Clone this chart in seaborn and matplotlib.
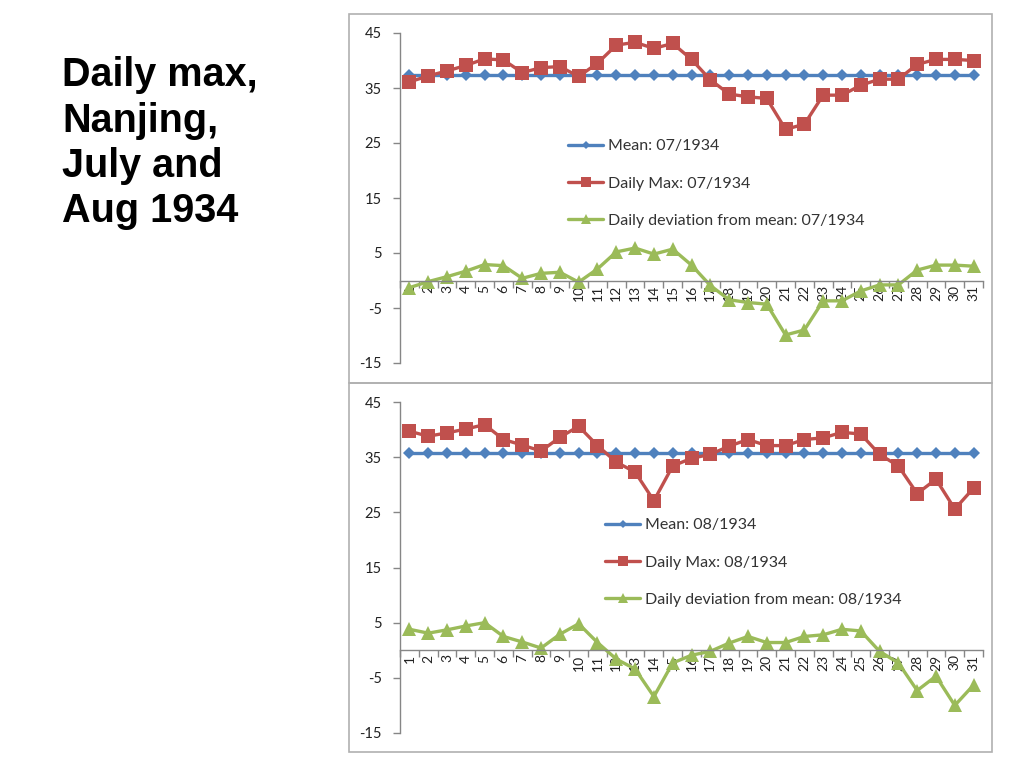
# Daily max temperature, Nanjing, July & August 1934
import numpy as np
import pandas as pd
import matplotlib
matplotlib.use("Agg")
import matplotlib.pyplot as plt
import seaborn as sns
from matplotlib.patches import Rectangle

# ---- data ----
days = list(range(1, 32))

jul_mean = 37.4
jul_max = [36.1, 37.2, 38.1, 39.1, 40.3, 40.1, 37.8, 38.7, 38.9, 37.1,
           39.5, 42.8, 43.3, 42.2, 43.1, 40.2, 36.5, 33.9, 33.4, 33.1,
           27.5, 28.4, 33.7, 33.7, 35.5, 36.6, 36.6, 39.3, 40.2, 40.2, 40.0]
jul_dev = [-1.3, -0.2, 0.7, 1.7, 2.9, 2.7, 0.4, 1.3, 1.5, -0.3,
           2.1, 5.2, 5.9, 4.8, 5.7, 2.8, -0.9, -3.5, -4.0, -4.3,
           -9.9, -9.0, -3.7, -3.7, -1.9, -0.8, -0.8, 1.9, 2.8, 2.8, 2.6]

aug_mean = 35.7
aug_max = [39.7, 38.8, 39.4, 40.1, 40.9, 38.2, 37.2, 36.1, 38.6, 40.6,
           37.1, 34.1, 32.3, 27.1, 33.4, 34.8, 35.5, 37.0, 38.2, 37.1,
           37.1, 38.2, 38.5, 39.5, 39.2, 35.5, 33.4, 28.4, 31.0, 25.6, 29.4]
aug_dev = [3.8, 3.1, 3.7, 4.4, 5.0, 2.5, 1.5, 0.4, 2.9, 4.8,
           1.4, -1.6, -3.4, -8.4, -2.3, -0.9, -0.2, 1.3, 2.5, 1.4,
           1.4, 2.5, 2.8, 3.8, 3.5, -0.2, -2.3, -7.3, -4.7, -10.0, -6.3]

BLUE, RED, GREEN = "#4F81BD", "#C0504D", "#9BBB59"

sns.set_theme(style="white")
plt.rcParams["font.family"] = ["Lato", "DejaVu Sans"]
plt.rcParams["axes.unicode_minus"] = False

fig = plt.figure(figsize=(10.24, 7.68), dpi=100)

# panel frames
fig.add_artist(Rectangle((349/1024, 1 - 383/768), 643/1024, 369/768,
                         transform=fig.transFigure, fill=False,
                         edgecolor="#B0B0B0", lw=1.2))
fig.add_artist(Rectangle((349/1024, 1 - 752/768), 643/1024, 369/768,
                         transform=fig.transFigure, fill=False,
                         edgecolor="#B0B0B0", lw=1.2))

fig.text(62/1024, 1 - 56/768, "Daily max,\nNanjing,\nJuly and\nAug 1934",
         family="Liberation Sans", weight="bold", fontsize=28.5,
         color="black", va="top", ha="left", linespacing=1.25)


def draw_panel(rect, mean, dmax, dev, month, legend_xy):
    ax = fig.add_axes(rect)
    df = pd.DataFrame({"day": days, "mean": [mean] * len(days),
                       "max": dmax, "dev": dev})
    sns.lineplot(data=df, x="day", y="mean", ax=ax, color=BLUE, lw=2.4,
                 marker="D", markersize=6.5, markeredgewidth=0,
                 label=f"Mean: {month}/1934")
    sns.lineplot(data=df, x="day", y="max", ax=ax, color=RED, lw=2.4,
                 marker="s", markersize=10, markeredgewidth=0,
                 label=f"Daily Max: {month}/1934")
    sns.lineplot(data=df, x="day", y="dev", ax=ax, color=GREEN, lw=2.4,
                 marker="^", markersize=10, markeredgewidth=0,
                 label=f"Daily deviation from mean: {month}/1934")

    ax.set_xlim(0.5, 31.5)
    ax.set_ylim(-15, 45)
    ax.set_yticks([-15, -5, 5, 15, 25, 35, 45])
    ax.set_xticks(days)
    ax.set_xticklabels([str(d) for d in days])
    ax.set_xticks(np.arange(0.5, 32, 1), minor=True)
    ax.set_xlabel("")
    ax.set_ylabel("")

    for s in ["top", "right"]:
        ax.spines[s].set_visible(False)
    ax.spines["bottom"].set_position(("data", 0))
    for s in ["left", "bottom"]:
        ax.spines[s].set_color("#868686")
        ax.spines[s].set_linewidth(1.0)

    ax.tick_params(axis="y", which="major", direction="out", length=5,
                   width=1, color="#868686", pad=8, labelsize=10.5,
                   labelcolor="#222222", left=True)
    ax.tick_params(axis="x", which="major", length=0, pad=3,
                   labelsize=10, labelcolor="#222222", labelrotation=90)
    ax.tick_params(axis="x", which="minor", direction="out", length=5,
                   width=1, color="#868686", bottom=True)
    ax.set_facecolor("white")

    leg = ax.legend(loc="upper left", bbox_to_anchor=legend_xy,
                    bbox_transform=fig.transFigure, frameon=False,
                    fontsize=11.5, handlelength=2.2, handletextpad=0.3,
                    labelspacing=1.45, borderpad=0, markerscale=0.7)
    for t in leg.get_texts():
        t.set_color("#333333")
    return ax


draw_panel([400/1024, 1 - 363/768, 583/1024, 330/768],
           jul_mean, jul_max, jul_dev, "07", (560/1024, 1 - 131/768))
draw_panel([400/1024, 1 - 733/768, 583/1024, 331/768],
           aug_mean, aug_max, aug_dev, "08", (597/1024, 1 - 510/768))

plt.savefig("out.png", dpi=100)
